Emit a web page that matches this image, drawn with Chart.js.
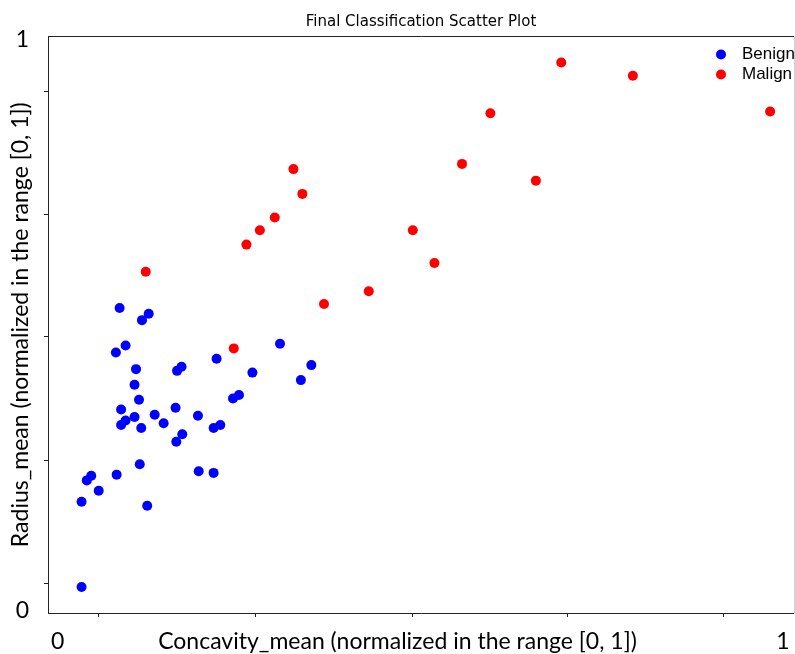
<!DOCTYPE html>
<html>
<head>
<meta charset="utf-8">
<title>Final Classification Scatter Plot</title>
<script src="https://cdn.jsdelivr.net/npm/chart.js@4"></script>
<style>
  body { margin: 0; background: #fff; }
  canvas { display: block; }
</style>
</head>
<body>
<canvas id="scatterChart" width="795" height="654"></canvas>
<script>
const seriesNames = ["Benign", "Malign"];

// concavity_mean (x) and radius_mean (y), both normalized
const benignX = [0.096, 0.135, 0.126, 0.104, 0.091, 0.118, 0.179, 0.173, 0.116, 0.122,
  0.098, 0.171, 0.143, 0.116, 0.104, 0.098, 0.125, 0.155, 0.180, 0.172,
  0.202, 0.222, 0.123, 0.058, 0.052, 0.092, 0.068, 0.045, 0.133, 0.045,
  0.311, 0.226, 0.353, 0.339, 0.274, 0.256, 0.248, 0.201, 0.231, 0.222];
const benignY = [0.529, 0.519, 0.508, 0.464, 0.452, 0.423, 0.427, 0.420, 0.396, 0.370,
  0.353, 0.356, 0.344, 0.340, 0.334, 0.326, 0.321, 0.329, 0.310, 0.297,
  0.246, 0.243, 0.258, 0.238, 0.230, 0.240, 0.212, 0.193, 0.186, 0.045,
  0.467, 0.441, 0.430, 0.404, 0.417, 0.378, 0.372, 0.342, 0.326, 0.321];

const malignX = [0.329, 0.341, 0.304, 0.284, 0.266, 0.131, 0.370, 0.430, 0.688, 0.784,
  0.593, 0.968, 0.555, 0.654, 0.489, 0.518, 0.249];
const malignY = [0.770, 0.727, 0.686, 0.664, 0.639, 0.592, 0.536, 0.558, 0.955, 0.932,
  0.867, 0.870, 0.779, 0.750, 0.664, 0.607, 0.459];

const xTickValues = [0.068, 0.278, 0.488, 0.697, 0.905];
const yTickValues = [0.052, 0.265, 0.479, 0.692, 0.905];
const endLabels = ["0", "1"];
const xEndValues = [0.013, 0.985];
const yEndValues = [0.004, 0.994];

const axisFont = { family: "Lato, 'Open Sans', sans-serif", size: 23 };

function toPoints(xs, ys) {
  return xs.map((x, i) => ({ x, y: ys[i] }));
}

function tickSet(marks, ends) {
  return (scale) => {
    scale.ticks = [...marks, ...ends].sort((a, b) => a - b).map((value) => ({ value }));
  };
}

function endLabel(ends) {
  return (value) => {
    const i = ends.indexOf(value);
    return i >= 0 ? endLabels[i] : "";
  };
}

// tick marks only for the unlabeled ticks
const tickColor = (ctx) => (ctx.tick && ctx.tick.label ? "rgba(0,0,0,0)" : "#222");

const cornerLegend = {
  id: "cornerLegend",
  afterDraw(chart) {
    const { ctx, chartArea } = chart;
    ctx.save();
    ctx.font = "17px 'Liberation Sans', Arial, sans-serif";
    ctx.textBaseline = "alphabetic";
    chart.data.datasets.forEach((ds, i) => {
      const y = chartArea.top + 18 + i * 20;
      ctx.fillStyle = ds.backgroundColor;
      ctx.beginPath();
      ctx.arc(chartArea.right - 73, y, 5, 0, Math.PI * 2);
      ctx.fill();
      ctx.fillStyle = "#000";
      ctx.fillText(ds.label, chartArea.right - 52, y + 4.5);
    });
    ctx.restore();
  },
};

new Chart(document.querySelector("#scatterChart"), {
  type: "scatter",
  data: {
    datasets: [
      { label: seriesNames[0], data: toPoints(benignX, benignY), backgroundColor: "#0000ff" },
      { label: seriesNames[1], data: toPoints(malignX, malignY), backgroundColor: "#ff0000" },
    ],
  },
  options: {
    responsive: false,
    animation: false,
    layout: { padding: 0, autoPadding: false },
    elements: { point: { radius: 5, borderWidth: 0, hoverRadius: 5 } },
    plugins: {
      legend: { display: false },
      tooltip: { enabled: false },
      title: {
        display: true,
        text: "Final Classification Scatter Plot",
        fullSize: false,
        color: "#000",
        font: { family: "'DejaVu Sans', sans-serif", size: 15, weight: "normal" },
        padding: { top: 13.5, bottom: 0 },
      },
      subtitle: {
        display: true,
        position: "bottom",
        text: "Concavity_mean (normalized in the range [0, 1])",
        color: "#000",
        font: axisFont,
        padding: { top: -26.1, bottom: -1.5 },
      },
    },
    scales: {
      x: {
        type: "linear",
        position: "bottom",
        min: 0,
        max: 1,
        afterBuildTicks: tickSet(xTickValues, xEndValues),
        afterFit: (scale) => { scale.height = 41; },
        border: { display: true, color: "#222", width: 1 },
        grid: { drawOnChartArea: false, tickLength: 4, tickColor },
        ticks: {
          autoSkip: false,
          maxRotation: 0,
          padding: 0,
          color: "#000",
          font: { ...axisFont, lineHeight: 2.13 },
          callback: endLabel(xEndValues),
        },
      },
      y: {
        type: "linear",
        position: "left",
        min: 0,
        max: 1,
        afterBuildTicks: tickSet(yTickValues, yEndValues),
        afterFit: (scale) => { scale.width = 48; },
        border: { display: true, color: "#222", width: 1 },
        grid: { drawOnChartArea: false, tickLength: 4, tickColor },
        ticks: { autoSkip: false, padding: 15, color: "#000", font: axisFont, callback: endLabel(yEndValues) },
        title: {
          display: true,
          text: "Radius_mean (normalized in the range [0, 1])",
          color: "#000",
          font: axisFont,
          padding: { top: 6.4, bottom: 0 },
        },
      },
      x2: {
        type: "linear",
        position: "top",
        min: 0,
        max: 1,
        afterFit: (scale) => { scale.height = 5; },
        border: { display: true, color: "#222", width: 1 },
        grid: { display: false },
        ticks: { display: false },
      },
      y2: {
        type: "linear",
        position: "right",
        min: 0,
        max: 1,
        afterFit: (scale) => { scale.width = 1; },
        border: { display: true, color: "#d0d0d0", width: 1 },
        grid: { display: false },
        ticks: { display: false },
      },
    },
  },
  plugins: [cornerLegend],
});
</script>
</body>
</html>
